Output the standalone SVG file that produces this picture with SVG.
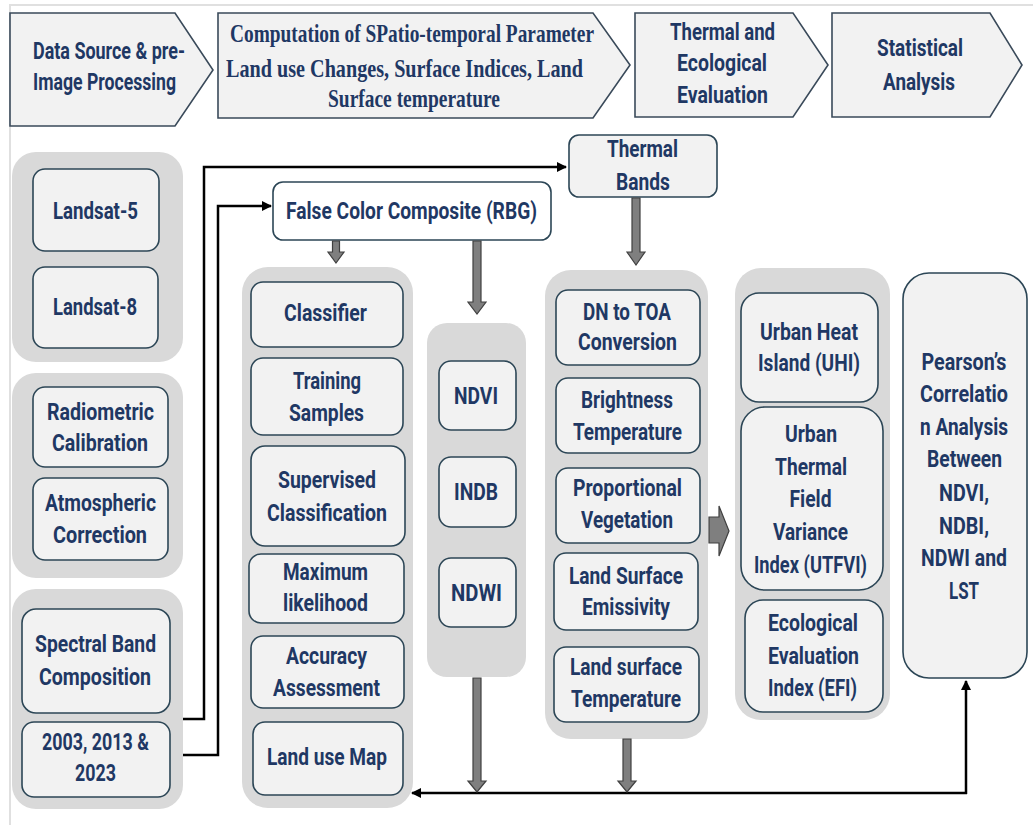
<svg xmlns="http://www.w3.org/2000/svg" width="1033" height="825" viewBox="0 0 1033 825">
<defs>
<marker id="ah" markerUnits="userSpaceOnUse" markerWidth="10" markerHeight="10" refX="9" refY="5" orient="auto">
<path d="M0,0 L10,5 L0,10 z" fill="#000"/>
</marker>
<style>
.bg{fill:#ffffff}
.frame{stroke:#e0e0e0;stroke-width:2;fill:none}
.hdr{fill:#f2f2f2;stroke:#3a4a5a;stroke-width:1.6}
.grp{fill:#d9d9d9}
.nd{fill:#f2f2f2;stroke:#2c4656;stroke-width:1.6}
.ndw{fill:#ffffff;stroke:#2c4656;stroke-width:1.6}
.t{font-family:Roboto,"Liberation Sans",sans-serif;font-weight:bold;font-size:23px;fill:#1f3864;text-anchor:middle}
.s{font-family:"Liberation Serif",serif;font-weight:bold;font-size:26px;fill:#1f3864;text-anchor:middle}
.ba{fill:#7f7f7f;stroke:#404040;stroke-width:1.2}
.cn{stroke:#000;stroke-width:2.5;fill:none}
</style>
</defs>
<rect class="bg" x="0" y="0" width="1033" height="825"/>
<path class="frame" d="M1033,5 H10 V825"/>

<g id="header1">
<polygon class="hdr" points="10,13 175,13 213,70 175,126 10,126"/>
<text class="t" x="109" y="59" textLength="152" lengthAdjust="spacingAndGlyphs">Data Source &amp; pre-</text>
<text class="t" x="104.5" y="90" textLength="143" lengthAdjust="spacingAndGlyphs">Image Processing</text>
</g>
<g id="header2">
<polygon class="hdr" points="218,13 593,13 630,65 593,118 218,118"/>
<text class="s" x="412" y="42" textLength="364" lengthAdjust="spacingAndGlyphs">Computation of SPatio-temporal Parameter</text>
<text class="s" x="404.5" y="77" textLength="357" lengthAdjust="spacingAndGlyphs">Land use Changes, Surface Indices, Land</text>
<text class="s" x="414" y="107" textLength="172" lengthAdjust="spacingAndGlyphs">Surface temperature</text>
</g>
<g id="header3">
<polygon class="hdr" points="635,13 793,13 828,65 793,117 635,117"/>
<text class="t" x="722.5" y="40" textLength="105" lengthAdjust="spacingAndGlyphs">Thermal and</text>
<text class="t" x="722" y="71" textLength="90" lengthAdjust="spacingAndGlyphs">Ecological</text>
<text class="t" x="722.5" y="103" textLength="91" lengthAdjust="spacingAndGlyphs">Evaluation</text>
</g>
<g id="header4">
<polygon class="hdr" points="832,13 990,13 1022,65 990,117 832,117"/>
<text class="t" x="920" y="56" textLength="86" lengthAdjust="spacingAndGlyphs">Statistical</text>
<text class="t" x="919" y="90" textLength="72" lengthAdjust="spacingAndGlyphs">Analysis</text>
</g>

<g id="group-satellites"><rect class="grp" x="12" y="152" width="171" height="210" rx="24"/></g>
<g id="group-calibration"><rect class="grp" x="12" y="373" width="171" height="205" rx="24"/></g>
<g id="group-composition"><rect class="grp" x="12" y="589" width="171" height="220" rx="24"/></g>
<g id="group-classification"><rect class="grp" x="242" y="267" width="171" height="541" rx="26"/></g>
<g id="group-indices"><rect class="grp" x="427" y="323" width="99" height="354" rx="20"/></g>
<g id="group-lst"><rect class="grp" x="545" y="270" width="163" height="469" rx="26"/></g>
<g id="group-thermal"><rect class="grp" x="735" y="268" width="155" height="452" rx="26"/></g>

<g id="landsat5">
<rect class="nd" x="33" y="169" width="126" height="82" rx="12"/>
<text class="t" x="95.5" y="219" textLength="85" lengthAdjust="spacingAndGlyphs">Landsat-5</text>
</g>
<g id="landsat8">
<rect class="nd" x="33" y="267" width="125" height="81" rx="12"/>
<text class="t" x="95" y="315" textLength="84" lengthAdjust="spacingAndGlyphs">Landsat-8</text>
</g>
<g id="radiometric">
<rect class="nd" x="33" y="387" width="135" height="80" rx="12"/>
<text class="t" x="100.5" y="420" textLength="107" lengthAdjust="spacingAndGlyphs">Radiometric</text>
<text class="t" x="100" y="451" textLength="96" lengthAdjust="spacingAndGlyphs">Calibration</text>
</g>
<g id="atmospheric">
<rect class="nd" x="33" y="478" width="135" height="82" rx="12"/>
<text class="t" x="100.5" y="511" textLength="111" lengthAdjust="spacingAndGlyphs">Atmospheric</text>
<text class="t" x="100" y="543" textLength="94" lengthAdjust="spacingAndGlyphs">Correction</text>
</g>
<g id="spectral">
<rect class="nd" x="22" y="609" width="148" height="104" rx="14"/>
<text class="t" x="95.5" y="652" textLength="121" lengthAdjust="spacingAndGlyphs">Spectral Band</text>
<text class="t" x="95" y="685" textLength="112" lengthAdjust="spacingAndGlyphs">Composition</text>
</g>
<g id="years">
<rect class="nd" x="22" y="722" width="148" height="75" rx="12"/>
<text class="t" x="95.5" y="750" textLength="107" lengthAdjust="spacingAndGlyphs">2003, 2013 &amp;</text>
<text class="t" x="95.5" y="781" textLength="41" lengthAdjust="spacingAndGlyphs">2023</text>
</g>

<g id="fcc">
<rect class="ndw" x="273" y="182" width="278" height="58" rx="10"/>
<text class="t" x="411.5" y="219" textLength="251" lengthAdjust="spacingAndGlyphs">False Color Composite (RBG)</text>
</g>
<g id="thermal-bands">
<rect class="nd" x="569" y="135" width="148" height="62" rx="10"/>
<text class="t" x="642.5" y="157" textLength="71" lengthAdjust="spacingAndGlyphs">Thermal</text>
<text class="t" x="643" y="190" textLength="54" lengthAdjust="spacingAndGlyphs">Bands</text>
</g>

<g id="classifier">
<rect class="nd" x="251" y="282" width="152" height="65" rx="12"/>
<text class="t" x="325.5" y="321" textLength="83" lengthAdjust="spacingAndGlyphs">Classifier</text>
</g>
<g id="training">
<rect class="nd" x="251" y="358" width="152" height="77" rx="12"/>
<text class="t" x="327" y="389" textLength="68" lengthAdjust="spacingAndGlyphs">Training</text>
<text class="t" x="326.5" y="421" textLength="75" lengthAdjust="spacingAndGlyphs">Samples</text>
</g>
<g id="supervised">
<rect class="nd" x="251" y="446" width="154" height="100" rx="14"/>
<text class="t" x="327" y="488" textLength="98" lengthAdjust="spacingAndGlyphs">Supervised</text>
<text class="t" x="327" y="521" textLength="120" lengthAdjust="spacingAndGlyphs">Classification</text>
</g>
<g id="maxlike">
<rect class="nd" x="249" y="554" width="155" height="69" rx="12"/>
<text class="t" x="325.5" y="580" textLength="85" lengthAdjust="spacingAndGlyphs">Maximum</text>
<text class="t" x="325.5" y="611" textLength="85" lengthAdjust="spacingAndGlyphs">likelihood</text>
</g>
<g id="accuracy">
<rect class="nd" x="251" y="636" width="153" height="72" rx="12"/>
<text class="t" x="326.5" y="664" textLength="81" lengthAdjust="spacingAndGlyphs">Accuracy</text>
<text class="t" x="326.5" y="696" textLength="107" lengthAdjust="spacingAndGlyphs">Assessment</text>
</g>
<g id="landuse-map">
<rect class="nd" x="253" y="722" width="150" height="73" rx="12"/>
<text class="t" x="327" y="765" textLength="120" lengthAdjust="spacingAndGlyphs">Land use Map</text>
</g>

<g id="ndvi">
<rect class="nd" x="439" y="361" width="77" height="69" rx="12"/>
<text class="t" x="476" y="404" textLength="44" lengthAdjust="spacingAndGlyphs">NDVI</text>
</g>
<g id="indb">
<rect class="nd" x="439" y="457" width="77" height="70" rx="12"/>
<text class="t" x="476" y="500" textLength="44" lengthAdjust="spacingAndGlyphs">INDB</text>
</g>
<g id="ndwi">
<rect class="nd" x="439" y="558" width="77" height="69" rx="12"/>
<text class="t" x="476.5" y="601" textLength="51" lengthAdjust="spacingAndGlyphs">NDWI</text>
</g>

<g id="dn-toa">
<rect class="nd" x="556" y="290" width="144" height="75" rx="12"/>
<text class="t" x="627" y="320" textLength="88" lengthAdjust="spacingAndGlyphs">DN to TOA</text>
<text class="t" x="627.5" y="350" textLength="99" lengthAdjust="spacingAndGlyphs">Conversion</text>
</g>
<g id="brightness">
<rect class="nd" x="556" y="378" width="144" height="75" rx="12"/>
<text class="t" x="627" y="408" textLength="92" lengthAdjust="spacingAndGlyphs">Brightness</text>
<text class="t" x="627.5" y="440" textLength="109" lengthAdjust="spacingAndGlyphs">Temperature</text>
</g>
<g id="proportional">
<rect class="nd" x="556" y="468" width="144" height="75" rx="12"/>
<text class="t" x="627.5" y="496" textLength="109" lengthAdjust="spacingAndGlyphs">Proportional</text>
<text class="t" x="627" y="528" textLength="92" lengthAdjust="spacingAndGlyphs">Vegetation</text>
</g>
<g id="emissivity">
<rect class="nd" x="554" y="553" width="144" height="77" rx="12"/>
<text class="t" x="626" y="584" textLength="114" lengthAdjust="spacingAndGlyphs">Land Surface</text>
<text class="t" x="626" y="615" textLength="88" lengthAdjust="spacingAndGlyphs">Emissivity</text>
</g>
<g id="lst">
<rect class="nd" x="554" y="647" width="145" height="75" rx="12"/>
<text class="t" x="626" y="675" textLength="112" lengthAdjust="spacingAndGlyphs">Land surface</text>
<text class="t" x="626" y="707" textLength="110" lengthAdjust="spacingAndGlyphs">Temperature</text>
</g>

<g id="uhi">
<rect class="nd" x="741" y="293" width="137" height="109" rx="18"/>
<text class="t" x="809" y="340" textLength="98" lengthAdjust="spacingAndGlyphs">Urban Heat</text>
<text class="t" x="809" y="371" textLength="102" lengthAdjust="spacingAndGlyphs">Island (UHI)</text>
</g>
<g id="utfvi">
<rect class="nd" x="741" y="407" width="142" height="183" rx="24"/>
<text class="t" x="811" y="442" textLength="52" lengthAdjust="spacingAndGlyphs">Urban</text>
<text class="t" x="811" y="475" textLength="72" lengthAdjust="spacingAndGlyphs">Thermal</text>
<text class="t" x="810.5" y="507" textLength="42" lengthAdjust="spacingAndGlyphs">Field</text>
<text class="t" x="810.5" y="540" textLength="75" lengthAdjust="spacingAndGlyphs">Variance</text>
<text class="t" x="810.5" y="573" textLength="113" lengthAdjust="spacingAndGlyphs">Index (UTFVI)</text>
</g>
<g id="efi">
<rect class="nd" x="745" y="600" width="138" height="112" rx="18"/>
<text class="t" x="813" y="631" textLength="90" lengthAdjust="spacingAndGlyphs">Ecological</text>
<text class="t" x="813.5" y="664" textLength="91" lengthAdjust="spacingAndGlyphs">Evaluation</text>
<text class="t" x="812.5" y="696" textLength="89" lengthAdjust="spacingAndGlyphs">Index (EFI)</text>
</g>

<g id="pearson">
<rect class="nd" x="903" y="273" width="124" height="405" rx="26"/>
<text class="t" x="964" y="370" textLength="85" lengthAdjust="spacingAndGlyphs">Pearson’s</text>
<text class="t" x="964" y="402" textLength="88" lengthAdjust="spacingAndGlyphs">Correlatio</text>
<text class="t" x="964" y="435" textLength="88" lengthAdjust="spacingAndGlyphs">n Analysis</text>
<text class="t" x="964.5" y="467" textLength="75" lengthAdjust="spacingAndGlyphs">Between</text>
<text class="t" x="964" y="501" textLength="50" lengthAdjust="spacingAndGlyphs">NDVI,</text>
<text class="t" x="964" y="534" textLength="50" lengthAdjust="spacingAndGlyphs">NDBI,</text>
<text class="t" x="964" y="566" textLength="86" lengthAdjust="spacingAndGlyphs">NDWI and</text>
<text class="t" x="964" y="599" textLength="30" lengthAdjust="spacingAndGlyphs">LST</text>
</g>

<g id="connectors">
<path class="cn" d="M183,719 H204 V167 H566" marker-end="url(#ah)"/>
<path class="cn" d="M183,755 H218 V206 H271" marker-end="url(#ah)"/>
<path class="cn" d="M967,793 H412" marker-end="url(#ah)"/>
<path class="cn" d="M966,794 V681" marker-end="url(#ah)"/>
<polygon class="ba" points="332.5,241 339.5,241 339.5,252 344,252 336,263 328,252 332.5,252"/>
<polygon class="ba" points="473,241 481,241 481,302 486,302 477,314 468,302 473,302"/>
<polygon class="ba" points="632,198 640,198 640,252 645,252 636,265 627,252 632,252"/>
<polygon class="ba" points="473,678 481,678 481,781 486,781 477,792 468,781 473,781"/>
<polygon class="ba" points="623,739 631,739 631,781 636,781 627,792 618,781 623,781"/>
<polygon class="ba" points="709,517 719,517 719,506 729,531 719,556 719,543 709,543"/>
</g>
</svg>
